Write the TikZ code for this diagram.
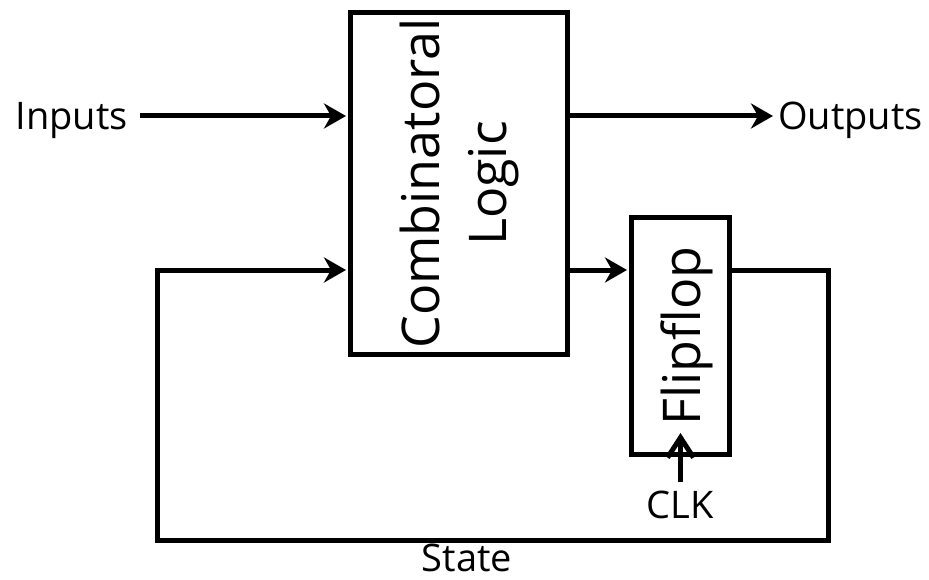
\documentclass[tikz,border=0pt]{standalone}
\usepackage{fontspec}
\setmainfont{Open Sans}
\usetikzlibrary{arrows.meta}

\begin{document}
\begin{tikzpicture}[
  x=1pt, y=-1pt,
  bigbox/.style={rectangle, draw=black, line width=5pt, inner sep=0pt},
  boxtext/.style={font=\fontsize{52}{67}\selectfont, rotate=90,
                  align=center, inner sep=0pt},
  sigtext/.style={font=\fontsize{38}{42}\selectfont, inner sep=0pt,
                  text height=27pt, text depth=0pt},
  wire/.style={line width=5pt},
  sigarrow/.style={wire, shorten >=2pt,
                   -{Stealth[length=22pt, width=25pt, inset=7pt]}}
]
  \useasboundingbox (0,0) rectangle (929,580);

  \node[bigbox, minimum width=217pt, minimum height=342pt] (comb) at (459,183.5) {};
  \node[boxtext] (combtxt) at (comb.center) {Combinatoral\\Logic};

  \node[bigbox, minimum width=98pt, minimum height=237pt] (ff) at (680.5,336) {};
  \node[boxtext] (fftxt) at ([xshift=6pt]ff.center) {Flipflop};

  \node[sigtext, anchor=east] (inp)  at (128,116) {Inputs};
  \node[sigtext, anchor=west] (outp) at (778,116) {Outputs};
  \node[sigtext] (state) at (467,558) {State};
  \node[sigtext] (clk)   at (680.5,505) {CLK};

  \coordinate (fbrow) at (0,270);
  \coordinate (fbr) at (828,540);
  \coordinate (fbl) at (157,540);
  \coordinate (clkapex) at ([yshift=24pt]ff.south);

  \draw[sigarrow] ([xshift=12pt]inp.east) -- (inp -| comb.west);
  \draw[sigarrow] (comb.east |- outp) -- ([xshift=-3pt]outp.west);
  \draw[sigarrow] (comb.east |- fbrow) -- (ff.west |- fbrow);
  \draw[sigarrow] (ff.east |- fbrow) -| (fbr) -- (fbl) |- (comb.west |- fbrow);
  \draw[wire, shorten <=9pt, -{Straight Barb[length=20pt, width=26pt]}]
    (clk.north) -- (clkapex);
\end{tikzpicture}
\end{document}
